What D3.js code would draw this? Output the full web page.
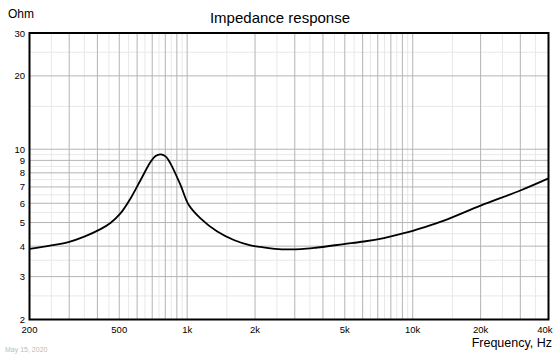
<!DOCTYPE html>
<html>
<head>
<meta charset="utf-8">
<script src="https://cdn.jsdelivr.net/npm/d3@7"></script>
<style>
  body { margin: 0; background: #fff; }
  text { font-family: "Liberation Sans", Arial, sans-serif; }
</style>
</head>
<body>
<div id="chart"></div>
<script>
// impedance curve
const freq = [200, 250, 300, 350, 413, 457, 506, 561, 621, 688, 724, 762, 802, 844, 935,
    1017, 1146, 1360, 1610, 1910, 2116, 2343, 2700, 3200, 3774, 4952, 6075, 7451, 9141,
    11210, 13750, 20000, 30000, 40000];
const ohm = [3.90, 4.03, 4.17, 4.38, 4.70, 4.98, 5.45, 6.28, 7.46, 8.86, 9.38, 9.53, 9.35, 8.73, 7.12,
    5.90, 5.20, 4.59, 4.24, 4.03, 3.97, 3.92, 3.88, 3.89, 3.95, 4.08, 4.18, 4.32, 4.52,
    4.78, 5.09, 5.87, 6.77, 7.59];

const xTicks = [200, 500, 1000, 2000, 5000, 10000, 20000, 40000];
const xTickLabels = ["200", "500", "1k", "2k", "5k", "10k", "20k", "40k"];
const yTicks = [2, 3, 4, 5, 6, 7, 8, 9, 10, 20, 30];

const W = 560, H = 354;
const plot = {left: 29.5, right: 548.5, top: 33, bottom: 319.5};

const svg = d3.select("#chart")
    .append("svg")
    .attr("width", W)
    .attr("height", H);

const x = d3.scaleLog().domain([200, 40000]).range([plot.left, plot.right]);
const y = d3.scaleLog().domain([2, 30]).range([plot.bottom, plot.top]);

// grid: whole multiples darker, halves lighter
const xMajor = [], xMinor = [];
[100, 1000, 10000].forEach(d => {
    for (let m = 1; m <= 9; m++) {
        if (m * d >= 200 && m * d <= 40000) xMajor.push(m * d);
        if ((m + 0.5) * d > 200 && (m + 0.5) * d < 40000) xMinor.push((m + 0.5) * d);
    }
});
const yMajor = [], yMinor = [];
[1, 10].forEach(d => {
    for (let m = 1; m <= 9; m++) {
        if (m * d >= 2 && m * d <= 30) yMajor.push(m * d);
        if ((m + 0.5) * d > 2 && (m + 0.5) * d < 30) yMinor.push((m + 0.5) * d);
    }
});

const grid = svg.append("g");
grid.selectAll(".xmin").data(xMinor).enter().append("line")
    .attr("x1", d => x(d)).attr("x2", d => x(d))
    .attr("y1", plot.top).attr("y2", plot.bottom)
    .attr("stroke", "#e8e8e8");
grid.selectAll(".ymin").data(yMinor).enter().append("line")
    .attr("x1", plot.left).attr("x2", plot.right)
    .attr("y1", d => y(d)).attr("y2", d => y(d))
    .attr("stroke", "#e8e8e8");
grid.selectAll(".xmaj").data(xMajor).enter().append("line")
    .attr("x1", d => x(d)).attr("x2", d => x(d))
    .attr("y1", plot.top).attr("y2", plot.bottom)
    .attr("stroke", "#b4b4b4");
grid.selectAll(".ymaj").data(yMajor).enter().append("line")
    .attr("x1", plot.left).attr("x2", plot.right)
    .attr("y1", d => y(d)).attr("y2", d => y(d))
    .attr("stroke", "#b4b4b4");

// curve
const pts = freq.map((f, i) => [f, ohm[i]]);
const line = d3.line()
    .x(d => x(d[0]))
    .y(d => y(d[1]))
    .curve(d3.curveCatmullRom.alpha(0.5));

svg.append("path")
    .datum(pts)
    .attr("d", line)
    .attr("fill", "none")
    .attr("stroke", "#000")
    .attr("stroke-width", 1.8);

// frame
svg.append("rect")
    .attr("x", plot.left).attr("y", plot.top)
    .attr("width", plot.right - plot.left).attr("height", plot.bottom - plot.top)
    .attr("fill", "none")
    .attr("stroke", "#000")
    .attr("stroke-width", 2);

// tick labels
svg.selectAll(".xl").data(xTicks).enter().append("text")
    .attr("x", (d, i) => i === xTicks.length - 1 ? plot.right + 4 : x(d))
    .attr("y", 333)
    .attr("text-anchor", (d, i) => i === xTicks.length - 1 ? "end" : "middle")
    .style("font-size", "9.5px")
    .text((d, i) => xTickLabels[i]);

svg.selectAll(".yl").data(yTicks).enter().append("text")
    .attr("x", 25)
    .attr("y", d => y(d) + 3.5)
    .attr("text-anchor", "end")
    .style("font-size", "9.5px")
    .text(d => d);

// titles
svg.append("text")
    .attr("x", 280).attr("y", 23)
    .attr("text-anchor", "middle")
    .style("font-size", "15px")
    .text("Impedance response");

svg.append("text")
    .attr("x", 8).attr("y", 18)
    .style("font-size", "12px")
    .text("Ohm");

svg.append("text")
    .attr("x", 552).attr("y", 347)
    .attr("text-anchor", "end")
    .style("font-size", "12.5px")
    .text("Frequency, Hz");

svg.append("text")
    .attr("x", 5).attr("y", 352)
    .style("font-size", "7px")
    .style("fill", "#bbb")
    .text("May 15, 2020");
</script>
</body>
</html>
